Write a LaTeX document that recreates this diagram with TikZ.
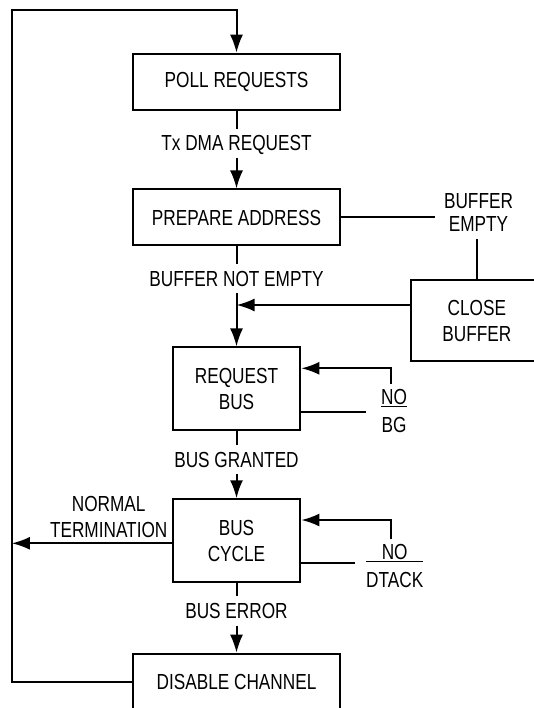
\documentclass[tikz,border=0pt]{standalone}
\usepackage{fontspec}
\setmainfont{Liberation Sans}[FakeStretch=0.79]
\usetikzlibrary{arrows.meta}

\newcommand\negsig[2]{{\renewcommand\arraystretch{0}\setlength\arrayrulewidth{1.2pt}%
  \begin{tabular}[t]{@{}c@{}}\rule[-1.5pt]{0pt}{1pt}#1\\\hline\rule{0pt}{25pt}#2\end{tabular}}}

\begin{document}
\begin{tikzpicture}[x=1pt,y=-1pt,line width=2pt,>={Latex[length=18pt,width=13pt]},
  font=\fontsize{21.8}{26}\selectfont,
  wide/.style={draw,inner sep=0pt,minimum width=207.7pt,minimum height=56pt},
  narrow/.style={draw,inner sep=0pt,align=center,minimum width=127.7pt,minimum height=82.5pt},
  lbl/.style={anchor=base,inner xsep=2pt,inner ysep=6pt,text depth=0pt},
  sig/.style={anchor=base,inner sep=4pt}]

\useasboundingbox (0,0) rectangle (534,708);
\clip (0,0) rectangle (534,708);

% boxes
\node[wide] (poll) at (236.5,81.7) {POLL REQUESTS};
\node[wide] (prep) at (236.5,217.5) {PREPARE ADDRESS};
\node[narrow] (reqbus) at (236.5,388.7) {REQUEST\\BUS};
\node[narrow] (buscyc) at (236.5,540.5) {BUS\\CYCLE};
\node[wide] (disable) at (236.5,681.7) {DISABLE CHANNEL};
\node[draw,inner sep=0pt,align=center,minimum width=132pt,minimum height=81pt] (close) at (476.8,320.5) {CLOSE\\BUFFER};

% labels
\node[lbl] (txreq) at (236.5,151) {Tx DMA REQUEST};
\node[lbl] (notempty) at (236.5,286.1) {BUFFER NOT EMPTY};
\node[lbl] (granted) at (236.5,467.1) {BUS GRANTED};
\node[lbl] (buserr) at (236.5,618.5) {BUS ERROR};
\node[anchor=north,align=center,inner xsep=8pt,inner ysep=7pt,font=\fontsize{21.8}{23.3}\selectfont] (empty) at (478.5,185.2) {BUFFER\\EMPTY};
\node[anchor=north,align=center,inner sep=0pt] (normal) at (108.7,495.5) {NORMAL\\TERMINATION};
\node[sig] (nobg) at (394,404.5) {\negsig{NO}{BG}};
\node[sig] (nodtack) at (394.7,559.5) {\negsig{NO}{DTACK}};

\coordinate (ret) at (11.9,10);
\coordinate (closeout) at (410.7,305);
\coordinate (bgtop) at (390.7,368.3);
\coordinate (bgend) at (366,411.7);
\coordinate (dttop) at (390.7,520);
\coordinate (dtend) at (355.2,563.3);
\coordinate (normend) at (11.9,543.3);

% main flow
\draw (poll.south) -- (txreq.north);
\draw[->] (txreq.south) -- (prep.north);
\draw (prep.south) -- (notempty.north);
\draw[->] (notempty.south) -- (reqbus.north);
\draw (reqbus.south) -- (granted.north);
\draw[->] (granted.south) -- (buscyc.north);
\draw (buscyc.south) -- (buserr.north);
\draw[->] (buserr.south) -- (disable.north);

% buffer empty
\draw (prep.east) -- (prep.east -| empty.west);
\draw (empty.south -| close.north) -- (close.north);
\draw[->] (close.west |- closeout) -- (closeout -| notempty.south);

% waits
\draw[->] (nobg.north -| bgtop) -- (bgtop) -- (bgtop -| reqbus.east);
\draw (reqbus.east |- bgend) -- (bgend);
\draw[->] (nodtack.north -| dttop) -- (dttop) -- (dttop -| buscyc.east);
\draw (buscyc.east |- dtend) -- (dtend);

% back to polling
\draw[->] (buscyc.west |- normend) -- (normend);
\draw[->] (disable.west) -| (ret) -| (poll.north);

\end{tikzpicture}
\end{document}
